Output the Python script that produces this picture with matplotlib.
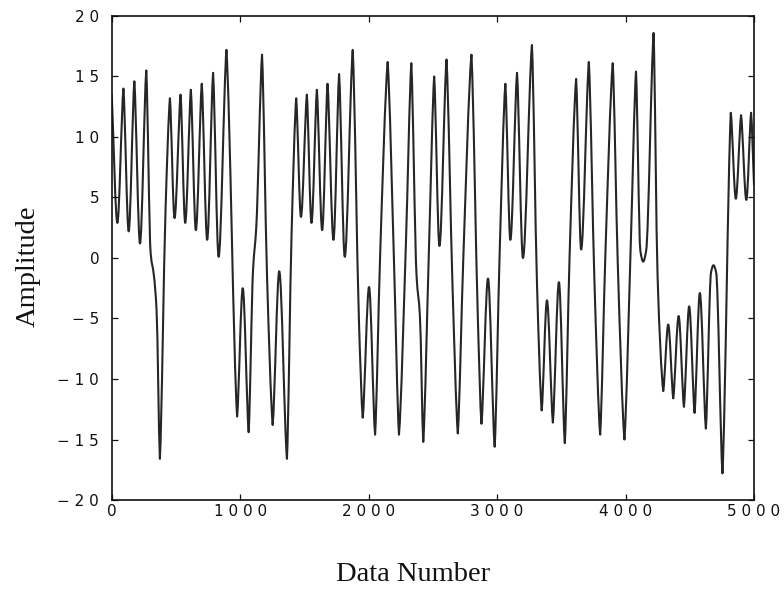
import matplotlib
matplotlib.use("Agg")
import matplotlib.pyplot as plt
from matplotlib.path import Path
from matplotlib.patches import PathPatch
from matplotlib.ticker import FixedLocator, FuncFormatter

# Sample index and amplitude at turning points / shoulders of the signal
data_number = [
    0, 44, 91, 132, 176, 220, 269, 303, 329, 349, 375, 419, 453, 489, 536,
    572, 616, 655, 701, 743, 789, 832, 893, 976, 1020, 1066, 1100, 1125,
    1170, 1209, 1253, 1304, 1364, 1400, 1436, 1473, 1519, 1555, 1597, 1638,
    1680, 1726, 1770, 1814, 1876, 1925, 1954, 2003, 2050, 2089, 2148, 2197,
    2236, 2290, 2332, 2373, 2399, 2425, 2470, 2510, 2551, 2606, 2653, 2694,
    2736, 2800, 2850, 2878, 2929, 2981, 3020, 3064, 3103, 3155, 3201, 3271,
    3310, 3347, 3388, 3434, 3481, 3527, 3564, 3615, 3654, 3714, 3758, 3802,
    3843, 3900, 3939, 3991, 4040, 4081, 4115, 4137, 4160, 4218, 4249, 4293,
    4332, 4371, 4413, 4454, 4495, 4537, 4578, 4625, 4665, 4684, 4705, 4754,
    4819, 4858, 4899, 4940, 4977, 5000,
]
amplitude = [
    13.5, 2.9, 14.0, 2.2, 14.6, 1.2, 15.5, 0.4, -1.5, -4.3, -16.6, 4.0, 13.2,
    3.3, 13.5, 2.9, 13.9, 2.3, 14.4, 1.5, 15.3, 0.1, 17.2, -13.1, -2.5,
    -14.4, -1.0, 2.5, 16.8, -1.5, -13.8, -1.1, -16.6, 2.0, 13.2, 3.4, 13.5,
    2.9, 13.9, 2.3, 14.4, 1.5, 15.2, 0.1, 17.2, -5.4, -13.2, -2.4, -14.6,
    0.1, 16.2, -0.2, -14.6, 1.2, 16.1, -1.5, -4.8, -15.2, 1.0, 15.0, 1.0,
    16.4, -2.4, -14.5, -0.3, 16.8, -5.0, -13.7, -1.7, -15.6, 0.5, 14.4, 1.5,
    15.3, 0.0, 17.6, -2.0, -12.6, -3.5, -13.6, -2.0, -15.3, 0.1, 14.8, 0.7,
    16.2, -2.1, -14.6, 0.4, 16.1, -0.4, -15.0, 1.0, 15.4, 0.6, -0.3, 0.6,
    18.6, -1.5, -11.0, -5.5, -11.6, -4.8, -12.3, -4.0, -12.8, -2.9, -14.1,
    -1.2, -0.6, -1.2, -17.8, 12.0, 4.9, 11.8, 4.8, 12.0, 6.0,
]

x_ticks = [0, 1000, 2000, 3000, 4000, 5000]
y_ticks = [-20, -15, -10, -5, 0, 5, 10, 15, 20]


def spaced(value, pos=None):
    s = str(int(value)).replace("-", "\u2212")
    return " ".join(s)


def smooth_path(xs, ys, sharp_level=9.0):
    """Shape-preserving cubic Bezier path through the samples.

    Inner turning points get a horizontal tangent (rounded), while the
    outer spikes (|y| above sharp_level) keep a pointed tip.
    """
    n = len(xs)
    h = [xs[i + 1] - xs[i] for i in range(n - 1)]
    d = [(ys[i + 1] - ys[i]) / h[i] for i in range(n - 1)]
    m_in = [0.0] * n   # tangent arriving at point i
    m_out = [0.0] * n  # tangent leaving point i
    m_in[0] = m_out[0] = d[0]
    m_in[-1] = m_out[-1] = d[-1]
    for i in range(1, n - 1):
        if d[i - 1] * d[i] <= 0:
            if abs(ys[i]) > sharp_level:
                m_in[i] = 0.45 * d[i - 1]
                m_out[i] = 0.45 * d[i]
            else:
                m_in[i] = m_out[i] = 0.0
        else:
            w1 = 2 * h[i] + h[i - 1]
            w2 = h[i] + 2 * h[i - 1]
            m_in[i] = m_out[i] = (w1 + w2) / (w1 / d[i - 1] + w2 / d[i])
    verts = [(xs[0], ys[0])]
    codes = [Path.MOVETO]
    for i in range(n - 1):
        t = h[i] / 3.0
        verts += [(xs[i] + t, ys[i] + m_out[i] * t),
                  (xs[i + 1] - t, ys[i + 1] - m_in[i + 1] * t),
                  (xs[i + 1], ys[i + 1])]
        codes += [Path.CURVE4] * 3
    return Path(verts, codes)


fig = plt.figure(figsize=(7.84, 5.92), dpi=100)
ax = fig.add_axes([0.1425, 0.1554, 0.8193, 0.8176])

ax.add_patch(PathPatch(smooth_path(data_number, amplitude), fill=False,
                       edgecolor="#262626", lw=1.5, joinstyle="round"))

ax.set_xlim(0, 5000)
ax.set_ylim(-20, 20)
ax.xaxis.set_major_locator(FixedLocator(x_ticks))
ax.yaxis.set_major_locator(FixedLocator(y_ticks))
ax.xaxis.set_major_formatter(FuncFormatter(spaced))
ax.yaxis.set_major_formatter(FuncFormatter(spaced))
ax.tick_params(direction="in", length=4, width=0.9, top=True, right=True,
               labelsize=11, colors="#111111",
               labelfontfamily="DejaVu Sans")
ax.tick_params(axis="x", pad=3)
ax.tick_params(axis="y", pad=9)
for sp in ax.spines.values():
    sp.set_linewidth(1.2)
    sp.set_color("#111111")

fig.text(0.527, 0.029, "Data Number", family="Liberation Serif",
         fontsize=20.5, ha="center", va="center", color="#111111")
fig.text(0.036, 0.551, "Amplitude", family="Liberation Serif",
         fontsize=20.5, ha="center", va="center", rotation=90,
         color="#111111")

fig.savefig("out.png", dpi=100, facecolor="white")
